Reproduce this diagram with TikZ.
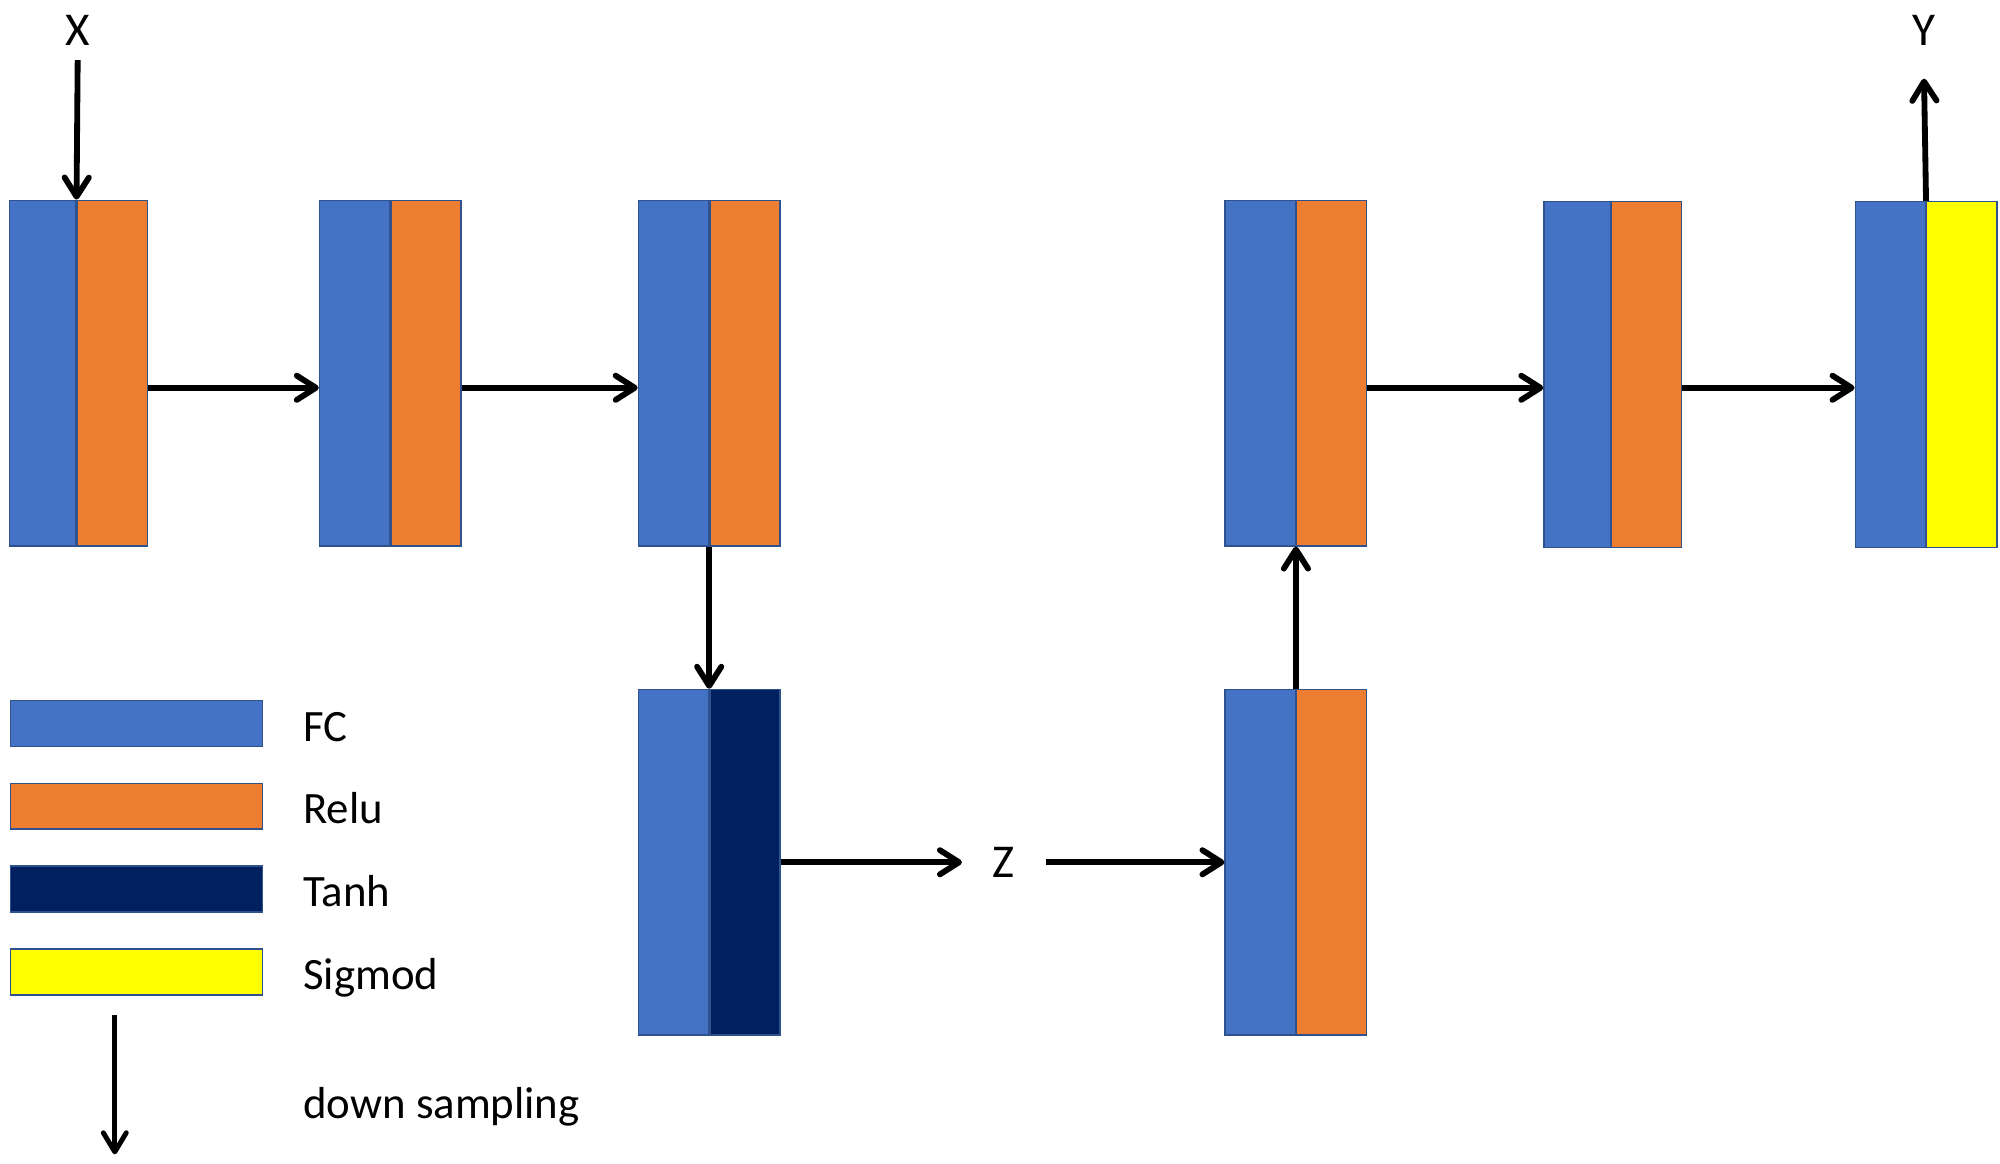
\documentclass[tikz,border=0pt]{standalone}
\usepackage{fontspec}
\setmainfont{Carlito}
\usetikzlibrary{arrows.meta}

\definecolor{fcblue}{HTML}{4472C4}
\definecolor{reluorange}{HTML}{ED7D31}
\definecolor{tanhnavy}{HTML}{002060}
\definecolor{sigyellow}{HTML}{FFFF00}
\definecolor{rimblue}{HTML}{2F528F}

\begin{document}
\begin{tikzpicture}[font=\fontsize{20}{24}\selectfont]

      \useasboundingbox (0,0) rectangle (31.36,-18.24);

      % FC halves
      \begin{scope}[every node/.style={rectangle,draw=rimblue,line width=0.6pt,fill=fcblue,inner sep=0pt,minimum width=1.1cm,minimum height=5.42cm,anchor=east}]
        \node[minimum width=1.04cm] (1f) at (1.2,-5.85) {};
        \node (2f) at (6.12,-5.85)  {};
        \node (3f) at (11.12,-5.85) {};
        \node (4f) at (20.32,-5.85) {};
        \node[minimum width=1.04cm] (5f) at (25.26,-5.87) {};
        \node (6f) at (30.2,-5.87)  {};
        \node (7f) at (11.12,-13.52) {};
        \node (8f) at (20.32,-13.52) {};
      \end{scope}

      % activation halves
      \begin{scope}[every node/.style={rectangle,draw=rimblue,line width=0.6pt,inner sep=0pt,minimum width=1.1cm,minimum height=5.42cm,anchor=west}]
        \node[fill=reluorange] (1a) at (1.2,-5.85)   {};
        \node[fill=reluorange] (2a) at (6.12,-5.85)  {};
        \node[fill=reluorange] (3a) at (11.12,-5.85) {};
        \node[fill=reluorange] (4a) at (20.32,-5.85) {};
        \node[fill=reluorange] (5a) at (25.26,-5.87) {};
        \node[fill=sigyellow]  (6a) at (30.2,-5.87)  {};
        \node[fill=tanhnavy]   (7a) at (11.12,-13.52) {};
        \node[fill=reluorange] (8a) at (20.32,-13.52) {};
      \end{scope}

      % input, output, code
      \begin{scope}[every node/.style={inner sep=0pt,font=\fontsize{21}{25}\selectfont}]
        \node (x) at (1.22,-0.47)  {X};
        \node (y) at (30.16,-0.47) {Y};
        \node[minimum width=1.3cm] (z) at (15.74,-13.52) {Z};
      \end{scope}

      % legend
      \begin{scope}[every node/.style={rectangle,draw=rimblue,line width=0.6pt,inner sep=0pt,minimum width=3.96cm,minimum height=0.72cm}]
        \node[fill=fcblue]     (kfc)   at (2.14,-11.34) {};
        \node[fill=reluorange] (krelu) at (2.14,-12.64) {};
        \node[fill=tanhnavy]   (ktanh) at (2.14,-13.94) {};
        \node[fill=sigyellow]  (ksig)  at (2.14,-15.24) {};
      \end{scope}

      \begin{scope}[every node/.style={anchor=base west,inner sep=0pt}]
        \node (lfc)   at (4.75,-11.62) {FC};
        \node (lrelu) at (4.75,-12.92) {Relu};
        \node (ltanh) at (4.75,-14.22) {Tanh};
        \node (lsig)  at (4.75,-15.51) {Sigmod};
        \node (ldown) at (4.75,-17.54) {down sampling};
      \end{scope}

      \coordinate (d1) at (1.8,-15.92);
      \coordinate (d2) at (1.8,-18.1);

      \begin{scope}[every edge/.style={draw,line width=2.6pt,-{Straight Barb[length=0.3cm,width=0.38cm,round]}}]
        \path ([yshift=-0.23cm]1a.east) edge ([yshift=-0.23cm]2f.west);
        \path ([yshift=-0.23cm]2a.east) edge ([yshift=-0.23cm]3f.west);
        \path ([yshift=-0.23cm]4a.east) edge ([yshift=-0.21cm]5f.west);
        \path ([yshift=-0.21cm]5a.east) edge ([yshift=-0.21cm]6f.west);
        \path (3f.south east) edge (7f.north east);
        \path (8f.north east) edge (4f.south east);
        \path (7a.east) edge (z.west);
        \path (z.east)  edge (8f.west);
        \path[shorten <=0.23cm] (x.south) edge (1f.north east);
        \path[shorten >=0.52cm] (6f.north east) edge (y.south);
      \end{scope}

      \begin{scope}[every edge/.style={draw,line width=2.2pt,-{Straight Barb[length=0.3cm,width=0.36cm,round]}}]
        \path (d1) edge (d2);
      \end{scope}

    \end{tikzpicture}
\end{document}
